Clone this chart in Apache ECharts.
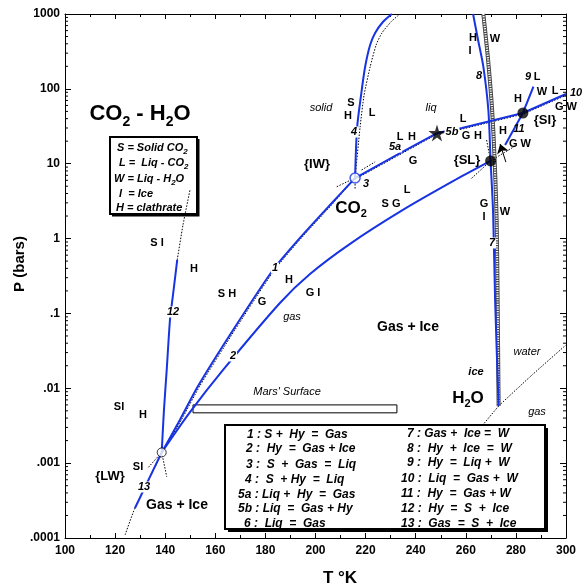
<!DOCTYPE html>
<html>
<head>
<meta charset="utf-8">
<script src="https://cdn.jsdelivr.net/npm/echarts@6/dist/echarts.min.js"></script>
<style>
html, body { margin: 0; padding: 0; background: #fff; }
#chart { width: 583px; height: 587px; }
</style>
</head>
<body>
<div id="chart"></div>
<script>
const BLUE = '#1733e2';
const FONT = '"Liberation Sans", Arial, Helvetica, sans-serif';
const NARROW = '"Liberation Sans Narrow", "Arial Narrow", "Liberation Sans", sans-serif';

// axis labels
const yTickLabels = ['.0001', '.001', '.01', '.1', '1', '10', '100', '1000'];
const yMinorMult = [2, 3, 4, 5, 6, 7, 8, 9];
const yDecades = [-4, -3, -2, -1, 0, 1, 2];

// quadruple points {LW}, {IW}, {SL}, {SI}
const openT = [138.6, 215.8];
const openP = [0.00139, 6.44];
const solidT = [269.9, 282.8];
const solidP = [10.9, 47.6];
const starT = [248.5];
const starP = [25.7];

// univariant curves (T in K, P in bars)
const line1T = [138.6, 145.9, 153.1, 167.1, 183.0, 193.8, 205.8, 215.8];
const line1P = [0.00139, 0.0038, 0.0107, 0.060, 0.38, 1.02, 2.81, 6.44];
const line2T = [138.6, 149.9, 163.1, 185.8, 197.8, 213.8, 234.9, 256.5, 269.9];
const line2P = [0.00139, 0.0048, 0.0176, 0.138, 0.336, 0.85, 2.41, 6.25, 10.9];
const line4T = [215.8, 216.6, 218.2, 219.8, 221.8, 223.8, 226.9, 230.5];
const line4P = [6.44, 30.0, 82.8, 196, 385, 557, 782, 1000];
const line5aT = [215.8, 232.5, 248.5];
const line5aP = [6.44, 13.1, 25.7];
const line10T = [248.5, 258.5, 282.8, 300];
const line10P = [25.7, 30.0, 47.6, 85.4];
const line9T = [282.8, 287.0];
const line9P = [47.6, 107];
const line11T = [282.8, 275.7];
const line11P = [47.6, 17.8];
const line87T = [262.9, 264.9, 267.0, 269.0, 269.9, 270.9, 271.7, 273.1];
const line87P = [1000, 450, 198, 52.2, 10.9, 2.20, 0.151, 0.0058];
const line12T = [138.6, 139.5, 140.6, 141.9, 143.1, 144.8];
const line12P = [0.00139, 0.00513, 0.0175, 0.0817, 0.176, 0.518];
const line13T = [138.6, 127.9];
const line13P = [0.00139, 0.00025];

// pure-phase curves (dotted)
const co2SubT = [124.0, 127.9, 138.9, 146.5, 153.8, 167.8, 183.6, 194.4, 206.4, 215.8];
const co2SubP = [0.00011, 0.00025, 0.00139, 0.0038, 0.0107, 0.060, 0.38, 1.02, 2.81, 6.44];
const co2MeltT = [215.8, 217.8, 219.4, 221.8, 224.2, 226.5, 230.1, 233.7];
const co2MeltP = [6.44, 30.9, 82.8, 196, 385, 557, 782, 1000];
const co2VapT = [215.8, 232.5, 248.5, 258.5, 282.8, 300];
const co2VapP = [6.2, 12.6, 24.8, 29.0, 46.0, 82.0];
const line12extT = [144.8, 147.1, 149.9];
const line12extP = [0.518, 1.52, 4.46];
const h2oMeltT = [267.0, 268.9, 270.5, 271.5, 272.3, 272.7, 273.1];
const h2oMeltP = [1000, 243, 52.2, 11.2, 1.77, 0.151, 0.0058];
const h2oVapT = [273.1, 286.0, 300];
const h2oVapP = [0.0058, 0.0146, 0.0379];
const iceSubT = [273.1, 264.0];
const iceSubP = [0.0058, 0.0025];

// short metastable extensions
const dashSegs = [
  { t: [208.5, 215.8], p: [4.93, 6.44] },
  { t: [218.4, 223.8], p: [8.24, 10.6] },
  { t: [215.8, 215.8], p: [6.44, 4.46] },
  { t: [133.3, 138.6], p: [0.00088, 0.00139] },
  { t: [138.6, 140.6], p: [0.00139, 0.00066] },
  { t: [262.3, 269.9], p: [6.38, 10.9] },
  { t: [268.3, 269.9], p: [20.7, 10.9] },
  { t: [269.9, 280.0], p: [10.9, 17.5] }
];

const arrowT = [276.0, 273.7];
const arrowP = [10.5, 18.3];

// Mars' surface range
const marsT = [151.1, 232.5];
const marsP = [0.0047, 0.006];

function pts(t, p) { return t.map((v, i) => [v, p[i]]); }

function curve(t, p, color, width, type, z, smooth) {
  return {
    type: 'line', data: pts(t, p), symbol: 'none', showSymbol: false,
    smooth: smooth || 0, lineStyle: { color: color, width: width, type: type || 'solid' },
    z: z || 5, silent: true, animation: false
  };
}
function blue(t, p, smooth) { return curve(t, p, BLUE, 2, 'solid', 5, smooth); }
function dots(t, p, smooth) { return curve(t, p, '#000', 1, [1.5, 1.5], 3, smooth); }

let minorData = [];
yDecades.forEach(d => yMinorMult.forEach(m => {
  minorData.push([100, m * Math.pow(10, d)]);
  minorData.push([300, m * Math.pow(10, d)]);
}));

const series = [
  dots(co2SubT, co2SubP, 0.2),
  dots(co2MeltT, co2MeltP, 0.2),
  dots(co2VapT, co2VapP, 0),
  dots(line12extT, line12extP, 0.2),
  dots(h2oVapT, h2oVapP, 0.2),
  dots(iceSubT, iceSubP, 0),
  curve(h2oMeltT, h2oMeltP, '#444', 4, 'solid', 4, 0.3),
  curve(h2oMeltT, h2oMeltP, '#fff', 2.2, [1.2, 1.2], 4, 0.3),
  blue(line1T, line1P, 0.2),
  blue(line2T, line2P, 0.3),
  blue(line4T, line4P, 0.3),
  blue(line5aT, line5aP, 0),
  blue(line10T, line10P, 0),
  blue(line9T, line9P, 0),
  blue(line11T, line11P, 0),
  blue(line87T, line87P, 0.3),
  blue(line12T, line12P, 0.2),
  blue(line13T, line13P, 0),
  {
    type: 'lines', coordinateSystem: 'cartesian2d', polyline: false,
    data: [{ coords: pts(arrowT, arrowP) }],
    symbol: ['none', 'arrow'], symbolSize: 9,
    lineStyle: { color: '#000', width: 1, opacity: 1 }, z: 6, silent: true, animation: false
  },
  {
    type: 'custom', data: [[marsT[0], marsT[1], marsP[0], marsP[1]]], z: 4, silent: true,
    renderItem: function (params, api) {
      const a = api.coord([api.value(0), api.value(3)]);
      const b = api.coord([api.value(1), api.value(2)]);
      return { type: 'rect', shape: { x: a[0], y: a[1], width: b[0] - a[0], height: b[1] - a[1] },
        style: { fill: '#fff', stroke: '#000', lineWidth: 1 } };
    }
  },
  {
    type: 'custom', data: minorData, z: 6, silent: true, clip: false,
    renderItem: function (params, api) {
      const x = api.value(0);
      const c = api.coord([x, api.value(1)]);
      const dir = x < 200 ? 1 : -1;
      return { type: 'line', shape: { x1: c[0], y1: c[1], x2: c[0] + dir * 3, y2: c[1] },
        style: { stroke: '#000', lineWidth: 1 } };
    }
  },
  {
    type: 'scatter', data: [pts(openT, openP)[0]], symbol: 'circle', symbolSize: 9, z: 8, silent: true,
    itemStyle: { color: '#fff', borderColor: '#000', borderWidth: 1 }
  },
  {
    type: 'scatter', data: [pts(openT, openP)[1]], symbol: 'circle', symbolSize: 10, z: 8, silent: true,
    itemStyle: { color: '#fff', borderColor: BLUE, borderWidth: 1.5 }
  },
  {
    type: 'scatter', data: pts(solidT, solidP), symbol: 'circle', symbolSize: 11, z: 8, silent: true,
    itemStyle: { color: '#000' }
  },
  {
    type: 'scatter', data: pts(starT, starP), z: 8, silent: true, symbolSize: 17,
    symbol: 'path://M50,0 L61,35 L98,35 L68,57 L79,91 L50,70 L21,91 L32,57 L2,35 L39,35 Z',
    itemStyle: { color: '#000' }
  }
];
dashSegs.forEach(s => series.push(dots(s.t, s.p, 0)));

// text annotations
const STY = {
  b: { fontSize: 11, fontWeight: 'bold', fontStyle: 'normal', fontFamily: FONT },
  bi: { fontSize: 11, fontWeight: 'bold', fontStyle: 'italic', fontFamily: FONT },
  i: { fontSize: 11, fontWeight: 'normal', fontStyle: 'italic', fontFamily: FONT },
  q: { fontSize: 13, fontWeight: 'bold', fontStyle: 'normal', fontFamily: FONT },
  g: { fontSize: 14, fontWeight: 'bold', fontStyle: 'normal', fontFamily: NARROW },
  lg: { fontSize: 12, fontWeight: 'bold', fontStyle: 'italic', fontFamily: FONT }
};

function txt(x, y, s, kind, opt, z) {
  const st = Object.assign({ text: s, fill: '#000', align: 'center', verticalAlign: 'middle' }, STY[kind], opt || {});
  return { type: 'text', x: x, y: y, z: z || 100, silent: true, style: st };
}
function gapTxt(x, y, s) { return txt(x, y, s, 'bi', { backgroundColor: '#fff', padding: [0, 1] }); }
function legTxt(x, y, s) { return txt(x, y, s, 'lg', { align: 'left' }, 110); }

function subTxt(x, y, s, size, subSize, align, italic) {
  const fs = italic ? 'italic' : 'normal';
  return {
    type: 'text', x: x, y: y, z: 100, silent: true,
    style: {
      text: s, align: align || 'center', verticalAlign: 'middle', fill: '#000',
      rich: {
        m: { fontSize: size, fontWeight: 'bold', fontStyle: fs, fontFamily: FONT, lineHeight: Math.round(size * 1.35), verticalAlign: 'middle' },
        s: { fontSize: subSize, fontWeight: 'bold', fontStyle: fs, fontFamily: FONT, lineHeight: subSize, verticalAlign: 'bottom' }
      }
    }
  };
}

const graphics = [
  subTxt(140, 114, '{m|CO}{s|2}{m| - H}{s|2}{m|O}', 22, 14),
  subTxt(351, 208, '{m|CO}{s|2}', 17, 11),
  subTxt(468, 398, '{m|H}{s|2}{m|O}', 17, 11),

  // key box
  { type: 'rect', z: 100, silent: true, shape: { x: 110, y: 137, width: 87, height: 77 },
    style: { fill: 'none', stroke: '#000', lineWidth: 2 } },
  { type: 'polyline', z: 100, silent: true, shape: { points: [[112, 215.5], [198.5, 215.5], [198.5, 139]] },
    style: { stroke: '#000', lineWidth: 2, fill: 'none' } },
  subTxt(117, 148, '{m|S = Solid CO}{s|2}', 11, 8, 'left', true),
  subTxt(119, 163, '{m|L =  Liq - CO}{s|2}', 11, 8, 'left', true),
  subTxt(114, 179, '{m|W = Liq - H}{s|2}{m|O}', 11, 8, 'left', true),
  txt(116, 194, ' I  = Ice', 'bi', { align: 'left' }),
  txt(116, 208, 'H = clathrate', 'bi', { align: 'left' }),

  // reaction legend box
  { type: 'rect', z: 104, silent: true, shape: { x: 228, y: 428, width: 320, height: 104 },
    style: { fill: '#000', stroke: 'none' } },
  { type: 'rect', z: 105, silent: true, shape: { x: 225, y: 425, width: 320, height: 104 },
    style: { fill: '#fff', stroke: '#000', lineWidth: 2 } },
  legTxt(247, 435, '1 : S +  Hy  =  Gas'),
  legTxt(246, 449, '2 :  Hy  =  Gas + Ice'),
  legTxt(246, 465, '3 :  S  +  Gas  =  Liq'),
  legTxt(245, 480, '4 :  S  + Hy  =  Liq'),
  legTxt(238, 495, '5a : Liq +  Hy  =  Gas'),
  legTxt(238, 509, '5b : Liq  =  Gas + Hy'),
  legTxt(244, 524, '6 :  Liq  =  Gas'),
  legTxt(407, 434, '7 : Gas +  Ice =  W'),
  legTxt(407, 449, '8 :  Hy  +  Ice  =  W'),
  legTxt(407, 463, '9 :  Hy  =  Liq +  W'),
  legTxt(401, 479, '10 :  Liq  =  Gas +  W'),
  legTxt(401, 494, '11 :  Hy  =  Gas + W'),
  legTxt(401, 509, '12 :  Hy  =  S  +  Ice'),
  legTxt(401, 524, '13 :  Gas  =  S  +  Ice'),

  // axis titles
  { type: 'text', x: 20, y: 264, rotation: Math.PI / 2, z: 100, silent: true,
    style: { text: 'P (bars)', align: 'center', verticalAlign: 'middle', fill: '#000', fontSize: 15, fontWeight: 'bold', fontFamily: FONT } },
  txt(340, 578, 'T °K', 'q', { fontSize: 17 }),

  // phase field letters
  txt(351, 103, 'S', 'b'), txt(348, 116, 'H', 'b'), txt(372, 113, 'L', 'b'),
  txt(400, 137, 'L', 'b'), txt(412, 137, 'H', 'b'), txt(413, 161, 'G', 'b'),
  txt(463, 119, 'L', 'b'), txt(466, 136, 'G', 'b'), txt(478, 136, 'H', 'b'),
  txt(407, 190, 'L', 'b'), txt(391, 204, 'S G', 'b'),
  txt(473, 38, 'H', 'b'), txt(495, 39, 'W', 'b'), txt(470, 51, 'I', 'b'),
  txt(518, 99, 'H', 'b'), txt(537, 77, 'L', 'b'), txt(542, 92, 'W', 'b'),
  txt(555, 91, 'L', 'b'), txt(566, 107, 'G W', 'b'),
  txt(503, 131, 'H', 'b'), txt(520, 144, 'G W', 'b'),
  txt(484, 204, 'G', 'b'), txt(484, 217, 'I', 'b'), txt(505, 212, 'W', 'b'),
  txt(289, 280, 'H', 'b'), txt(313, 293, 'G I', 'b'),
  txt(227, 294, 'S H', 'b'), txt(262, 302, 'G', 'b'), txt(194, 269, 'H', 'b'),
  txt(157, 243, 'S I', 'b'),
  txt(119, 407, 'SI', 'b'), txt(143, 415, 'H', 'b'), txt(138, 467, 'SI', 'b'),

  // curve numbers
  gapTxt(354, 132, '4'), gapTxt(452, 132, '5b'), gapTxt(395, 147, '5a'),
  txt(366, 184, '3', 'bi'), txt(479, 76, '8', 'bi'), txt(528, 77, '9', 'bi'),
  txt(519, 129, '11', 'bi'), txt(576, 93, '10', 'bi'),
  gapTxt(492, 243, '7'), gapTxt(275, 268, '1'), gapTxt(173, 312, '12'),
  gapTxt(233, 356, '2'), gapTxt(144, 487, '13'),

  // region words
  txt(321, 108, 'solid', 'i'), txt(431, 108, 'liq', 'i'), txt(292, 317, 'gas', 'i'),
  txt(527, 352, 'water', 'i'), txt(537, 412, 'gas', 'i'), txt(287, 392, "Mars' Surface", 'i'),
  txt(476, 372, 'ice', 'bi'),
  txt(317, 164, '{IW}', 'q'), txt(467, 160, '{SL}', 'q'), txt(545, 120, '{SI}', 'q'),
  txt(110, 476, '{LW}', 'q'),
  txt(408, 327, 'Gas + Ice', 'g'), txt(177, 505, 'Gas + Ice', 'g')
];

const xCommon = {
  type: 'value', min: 100, max: 300, interval: 20, splitLine: { show: false },
  axisLine: { show: true, onZero: false, lineStyle: { color: '#000', width: 1 } },
  axisTick: { show: true, inside: true, length: 5, lineStyle: { color: '#000' } },
  minorTick: { show: true, splitNumber: 2, length: 3, lineStyle: { color: '#000' } }
};
const yCommon = {
  type: 'log', logBase: 10, min: 0.0001, max: 1000, splitLine: { show: false },
  axisLine: { show: true, onZero: false, lineStyle: { color: '#000', width: 1 } },
  axisTick: { show: true, inside: true, length: 6, lineStyle: { color: '#000' } },
  minorTick: { show: false }
};

const option = {
  animation: false,
  backgroundColor: '#fff',
  grid: { left: 65, right: 17, top: 14, bottom: 49 },
  xAxis: [
    Object.assign({}, xCommon, { position: 'bottom',
      axisLabel: { color: '#000', fontSize: 12, fontWeight: 'bold', fontFamily: FONT, margin: 7 } }),
    Object.assign({}, xCommon, { position: 'top', axisLabel: { show: false } })
  ],
  yAxis: [
    Object.assign({}, yCommon, { position: 'left',
      axisLabel: { color: '#000', fontSize: 12, fontWeight: 'bold', fontFamily: FONT, margin: 5,
        formatter: function (v) { return yTickLabels[Math.round(Math.log10(v)) + 4]; } } }),
    Object.assign({}, yCommon, { position: 'right', axisLabel: { show: false } })
  ],
  series: series,
  graphic: { elements: graphics }
};

const chart = echarts.init(document.getElementById('chart'));
chart.setOption(option);
</script>
</body>
</html>
